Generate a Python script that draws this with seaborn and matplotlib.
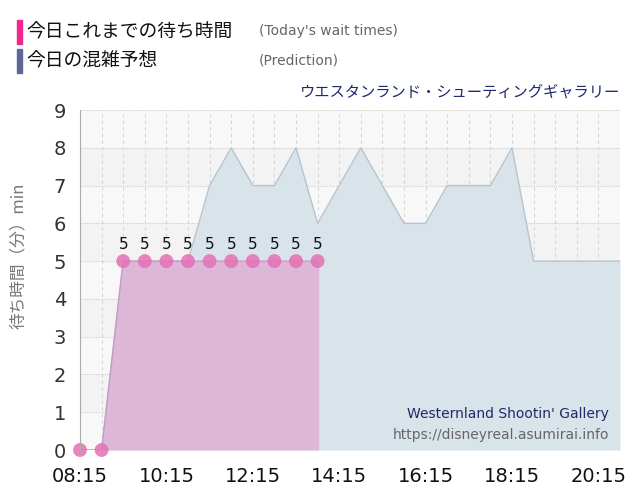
import matplotlib
matplotlib.use("Agg")
from matplotlib import pyplot as plt
import seaborn as sns
import numpy as np
import pandas as pd

# data
pred_times = ["08:15", "08:45", "09:15", "09:45", "10:15", "10:45", "11:15", "11:45",
              "12:15", "12:45", "13:15", "13:45", "14:15", "14:45", "15:15", "15:45",
              "16:15", "16:45", "17:15", "17:45", "18:15", "18:45", "19:15", "19:45",
              "20:15", "20:45"]
pred_wait = [0, 0, 5, 5, 5, 5, 7, 8, 7, 7, 8, 6, 7, 8, 7, 6, 6, 7, 7, 7, 8, 5, 5, 5, 5, 5]

actual_times = ["08:15", "08:45", "09:15", "09:45", "10:15", "10:45", "11:15", "11:45",
                "12:15", "12:45", "13:15", "13:45"]
actual_wait = [0, 0, 5, 5, 5, 5, 5, 5, 5, 5, 5, 5]

tick_labels = ["08:15", "10:15", "12:15", "14:15", "16:15", "18:15", "20:15"]
y_ticks = list(range(0, 10))

def to_h(t):
    h, m = t.split(":")
    return int(h) + int(m) / 60

pred = pd.DataFrame({"t": [to_h(t) for t in pred_times], "wait": pred_wait})
actual = pd.DataFrame({"t": [to_h(t) for t in actual_times], "wait": actual_wait})

sns.set_style("white")
plt.rcParams["font.family"] = ["DejaVu Sans", "Noto Sans CJK JP"]
jp = ["Noto Sans CJK JP", "DejaVu Sans"]

fig = plt.figure(figsize=(6.4, 5.0), dpi=100)
ax = fig.add_axes([80 / 640, 1 - 450 / 500, 540 / 640, 340 / 500])

x0, x1 = to_h("08:15"), to_h("20:45")
ax.set_xlim(x0, x1)
ax.set_ylim(0, 9)

# background bands
for i in range(9):
    ax.axhspan(i, i + 1, color="#f8f8f8" if i % 2 == 0 else "#f3f3f3", lw=0, zorder=0)
# grid
for y in y_ticks[1:]:
    ax.axhline(y, color="#cfcfcf", lw=0.8, ls=(0, (1, 1)), zorder=1)
for xv in np.arange(x0 + 0.5, x1, 0.5):
    ax.axvline(xv, color="#d6d6d6", lw=0.8, ls=(0, (3, 3)), zorder=1)

# prediction area
ax.fill_between(pred["t"], pred["wait"], color="#d9e3ea", lw=0, zorder=2)
sns.lineplot(data=pred, x="t", y="wait", ax=ax, color="#b7c4cf", lw=1.0, zorder=3)

# actual wait area
ax.fill_between(actual["t"], actual["wait"], color="#dcb7d8", lw=0, zorder=4)
sns.lineplot(data=actual, x="t", y="wait", ax=ax, color="#c79ac6", lw=1.0, zorder=5)
ax.vlines(actual["t"].iloc[-1], 0, actual["wait"].iloc[-1], color="#dcb7d8", lw=1, zorder=4)
sns.scatterplot(data=actual, x="t", y="wait", ax=ax, color="#e570b4", s=100,
                alpha=0.85, edgecolor="none", zorder=6, clip_on=False)
for t, w in zip(actual["t"], actual["wait"]):
    if w > 0:
        ax.text(t, w + 0.25, str(w), ha="center", va="bottom", fontsize=11, color="#111111", zorder=7)

ax.set_xticks([to_h(t) for t in tick_labels])
ax.set_xticklabels(tick_labels, fontsize=14, color="#111111")
ax.set_yticks(y_ticks)
ax.set_yticklabels([str(v) for v in y_ticks], fontsize=14, color="#333333")
ax.tick_params(axis="x", length=10, color="#dddddd", pad=2, width=1)
ax.tick_params(axis="y", length=8, color="#dddddd", pad=2, width=1)
ax.set_xlabel("")
ax.set_ylabel("")
for s in ["top", "right", "bottom"]:
    ax.spines[s].set_visible(False)
ax.spines["left"].set_color("#aaaaaa")
ax.spines["left"].set_zorder(8)

fig.text(18 / 640, 1 - 256 / 500, "待ち時間（分）min", rotation=90, ha="center", va="center",
         fontsize=12, color="#777777", family=jp)

# legend header
fig.patches.append(plt.Rectangle((17 / 640, 1 - 44 / 500), 5 / 640, 24 / 500,
                                 transform=fig.transFigure, color="#f0288e"))
fig.patches.append(plt.Rectangle((17 / 640, 1 - 73 / 500), 5 / 640, 24 / 500,
                                 transform=fig.transFigure, color="#5d6896"))
fig.text(26 / 640, 1 - 32 / 500, "今日これまでの待ち時間", fontsize=13.5, va="center",
         color="#111111", family=jp)
fig.text(26 / 640, 1 - 61 / 500, "今日の混雑予想", fontsize=13.5, va="center",
         color="#111111", family=jp)
fig.text(259 / 640, 1 - 31 / 500, "(Today's wait times)", fontsize=10, va="center", color="#666666")
fig.text(259 / 640, 1 - 60 / 500, "(Prediction)", fontsize=10, va="center", color="#666666")
fig.text(620 / 640, 1 - 92 / 500, "ウエスタンランド・シューティングギャラリー", fontsize=11,
         ha="right", va="center", color="#1f2a6e", family=jp)

ax.text(0.98, 0.105, "Westernland Shootin' Gallery", transform=ax.transAxes, ha="right",
        va="center", fontsize=10, color="#1f2a6e", zorder=9)
ax.text(0.98, 0.043, "https://disneyreal.asumirai.info", transform=ax.transAxes, ha="right",
        va="center", fontsize=10, color="#666666", zorder=9)

plt.savefig("out.png", dpi=100)
